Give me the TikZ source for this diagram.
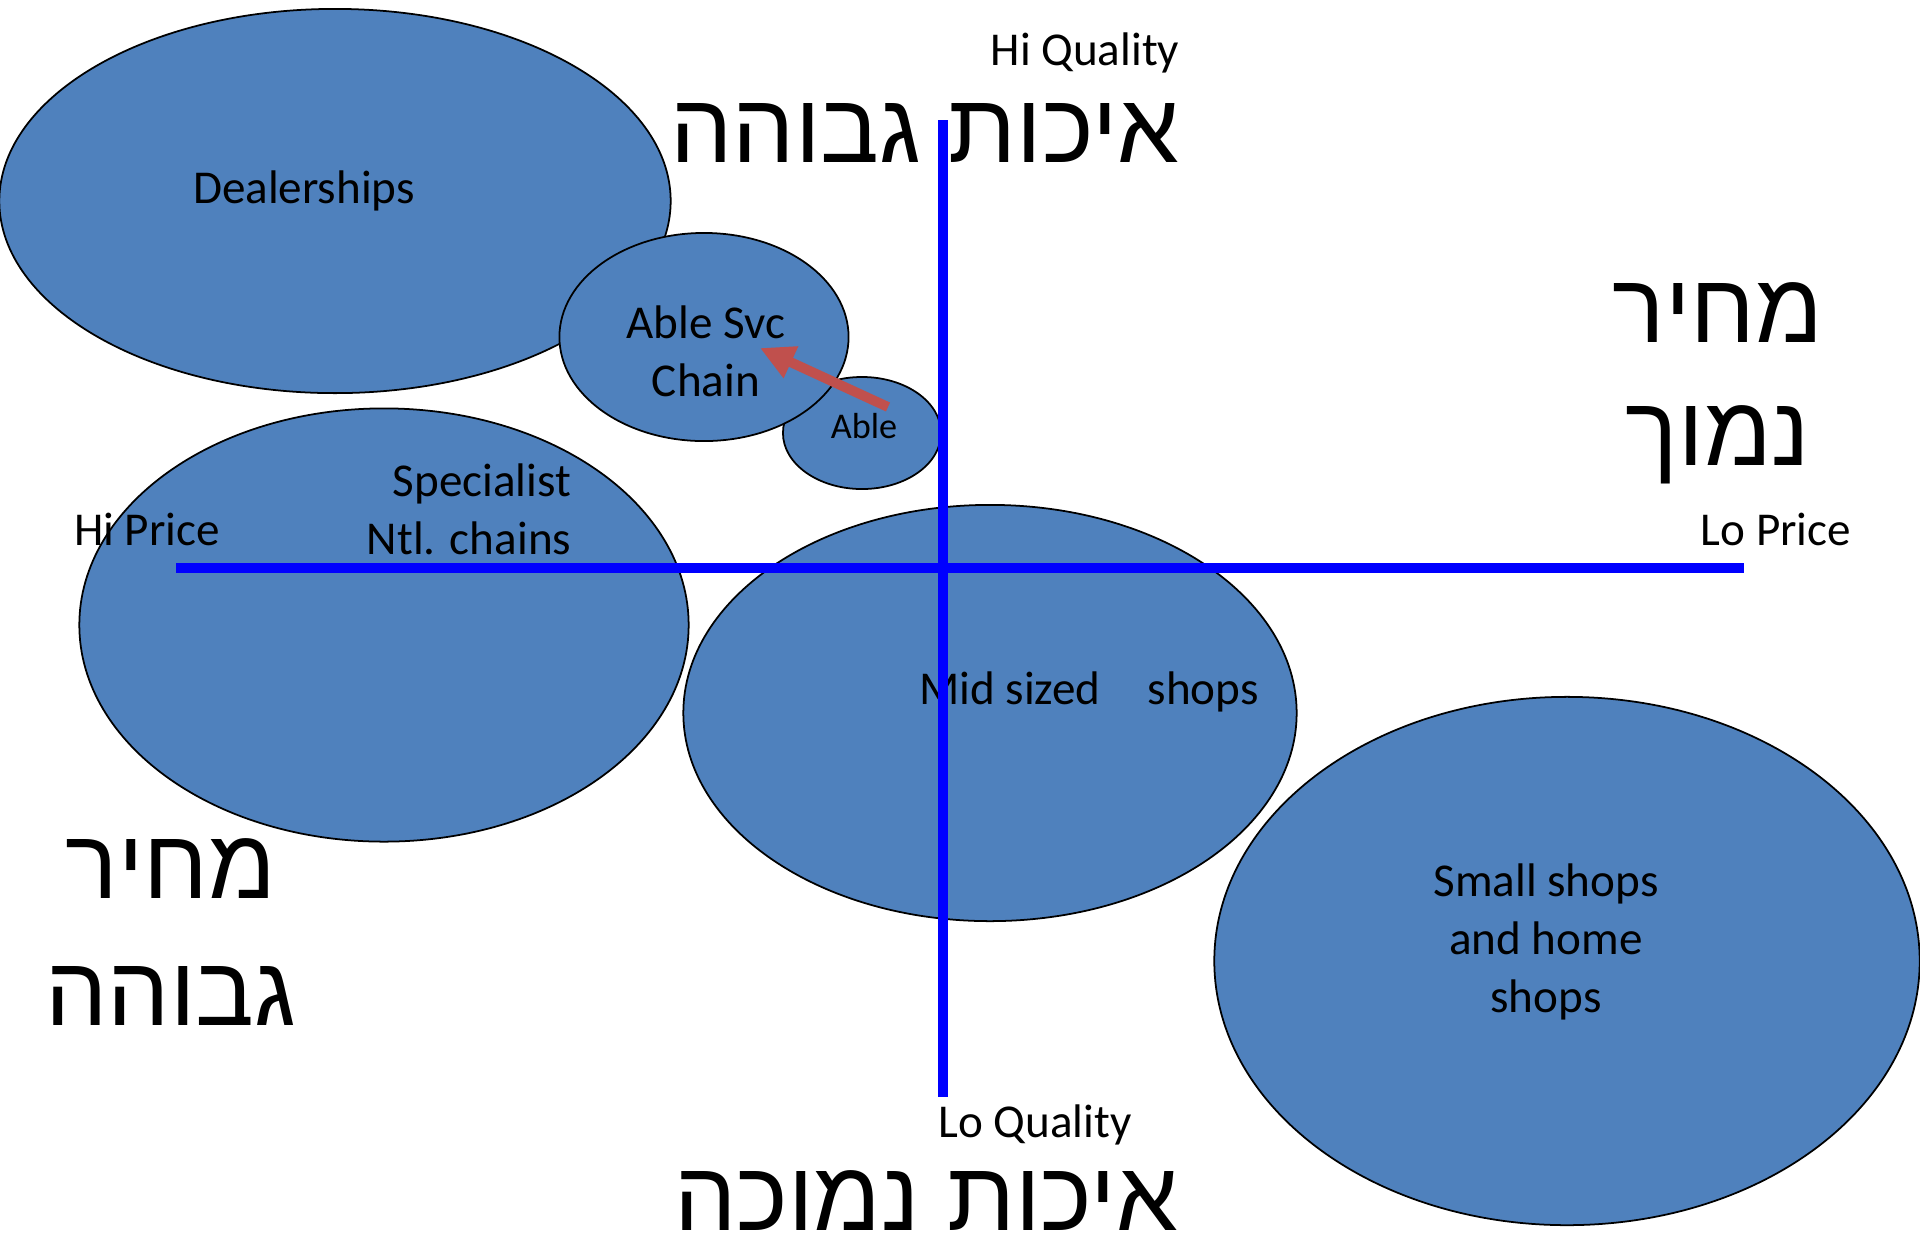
\documentclass[tikz,border=0pt]{standalone}
\usepackage{fontspec}
\setmainfont{Carlito}
\newfontfamily\hebfont[Script=Hebrew]{Liberation Sans}
\TeXXeTstate=1
\usetikzlibrary{shapes.geometric,arrows.meta}
\definecolor{bubblefill}{RGB}{79,129,189}
\definecolor{arrowred}{RGB}{192,80,77}
\definecolor{axisblue}{RGB}{0,0,255}

\begin{document}
\begin{tikzpicture}[x=0.01cm,y=-0.01cm,
  bubble/.style={ellipse,draw=black,line width=0.5pt,fill=bubblefill,inner sep=0pt},
  lbl/.style={font=\fontsize{13.4}{16.4}\selectfont,align=center,inner sep=0pt},
  heb/.style={font=\hebfont\fontsize{28}{35}\selectfont,align=center,inner sep=0pt},
  axisline/.style={draw=axisblue,line width=2.8pt}]
  \useasboundingbox (0,0) rectangle (1920,1238);
  % segments: name/x/y/width/height
  \foreach \n/\x/\y/\w/\h in {deal/335/201/6.71/3.84,spec/384/625/6.09/4.33,mid/990/713/6.13/4.16,small/1567/961/7.05/5.28,able/862/433/1.58/1.12,chain/704/337/2.89/2.08}{
    \node[bubble,minimum width=\w cm,minimum height=\h cm] (\n) at (\x,\y) {};
  }
  \node[lbl] (tdeal) at (304,191) {Dealerships};
  \node[lbl] (tchain) at (706,351) {Able Svc\\Chain};
  \node[lbl,font=\fontsize{10.3}{12}\selectfont] (table) at (864,426) {Able};
  \node[lbl,align=right,anchor=east] (tspec) at (572,509) {Specialist\\Ntl. chains};
  \node[lbl] (tmid) at (1089,692) {Mid sized\hspace{1em}shops};
  \node[lbl] (tsmall) at (1546,942) {Small shops\\and home\\shops};
  \node[lbl] (hiq) at (1085,53) {Hi Quality};
  \node[lbl] (loq) at (1035,1125) {Lo Quality};
  \node[lbl] (hip) at (147,529) {Hi Price};
  \node[lbl] (lop) at (1776,529) {Lo Price};
  % hebrew captions
  \node[heb] (hebhiq) at (925,133) {\beginR איכות גבוהה\endR};
  \node[heb,text depth=0pt,anchor=base] (hebloq) at (926,1230) {\beginR איכות נמוכה\endR};
  \node[heb] (heblop) at (1718,383) {\beginR מחיר\endR\\\beginR נמוך\endR};
  \node[heb,font=\hebfont\fontsize{28}{36}\selectfont] (hebhip) at (171,932) {\beginR מחיר\endR\\\beginR גבוהה\endR};
  % move arrow
  \coordinate (atail) at (888,407);
  \coordinate (ahead) at (760,348);
  \draw[arrowred,line width=2.8pt,-{Triangle[length=9.7pt,width=9.3pt]}] (atail) -- (ahead);
  % axes
  \coordinate (xl) at (176,568);
  \coordinate (xr) at (1744,568);
  \coordinate (yt) at (943,120);
  \coordinate (yb) at (943,1097);
  \draw[axisline] (xl) -- (xr);
  \draw[axisline] (yt) -- (yb);
\end{tikzpicture}
\end{document}
